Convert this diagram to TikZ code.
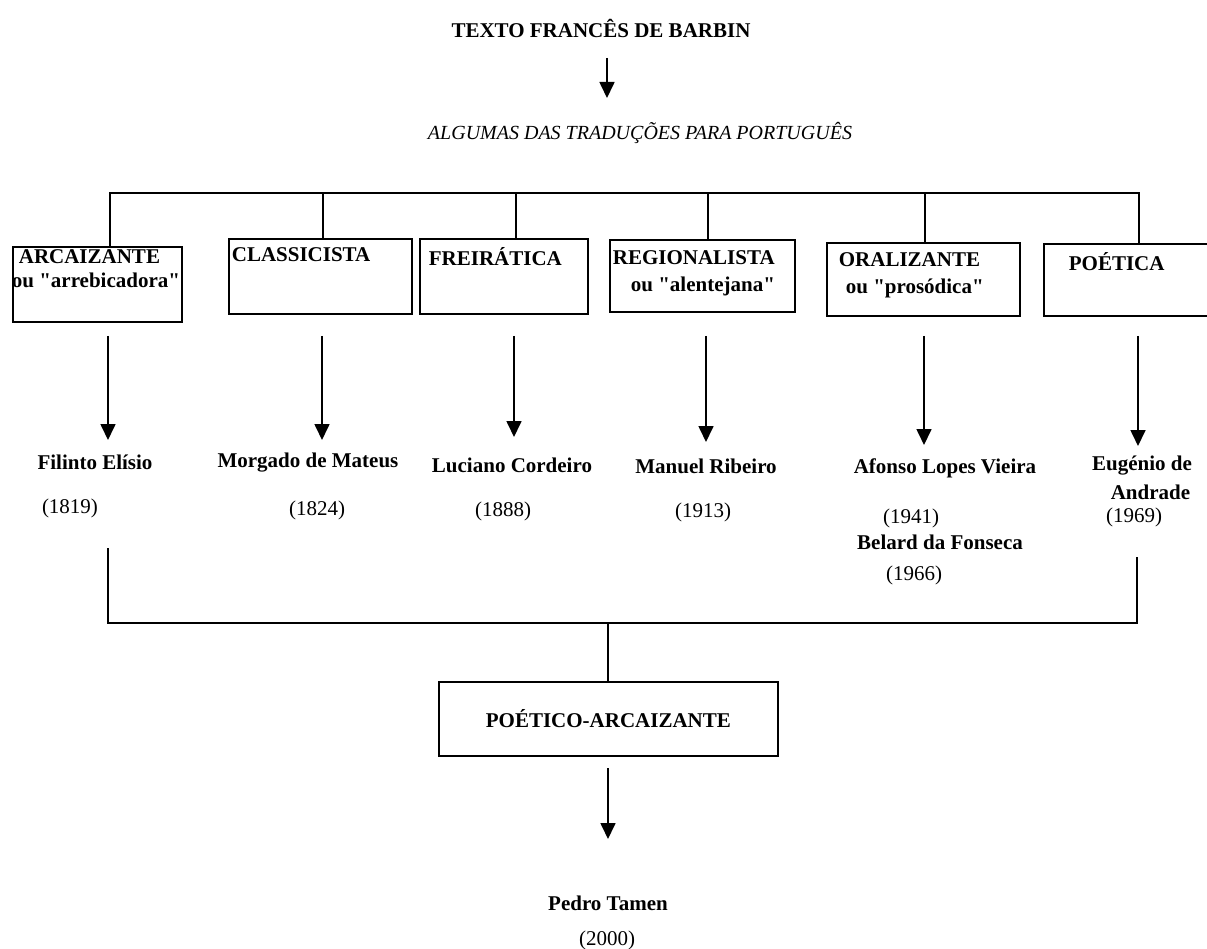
\documentclass[tikz,border=0pt]{standalone}
\usepackage{fontspec}
\setmainfont{Liberation Serif}[Ligatures=TeXOff]
\usetikzlibrary{arrows.meta}
\begin{document}
\begin{tikzpicture}[x=1pt,y=-1pt,line width=1.7pt,
  lbl/.style={font=\bfseries\fontsize{21}{23}\selectfont, inner sep=0pt},
  yr/.style={font=\fontsize{21}{23}\selectfont, inner sep=0pt},
  boxlbl/.style={lbl, anchor=west},
  frame/.style={draw, line width=1.7pt, inner sep=0pt, anchor=north west},
  arr/.style={-{Triangle[length=16pt,width=15pt]}},
]
\useasboundingbox (0,0) rectangle (1207,949);
\clip (0,0) rectangle (1207,949);

% title
\node[lbl] (title) at (601,28) {TEXTO FRANCÊS DE BARBIN};
\node[font=\itshape\fontsize{20}{22}\selectfont, inner sep=0pt] (sub) at (640,133) {ALGUMAS DAS TRADUÇÕES PARA PORTUGUÊS};
\coordinate (ta) at (607,58);
\coordinate (tb) at (607,98);
\draw[arr] (ta) -- (tb);

% boxes
\node[frame, minimum width=169pt, minimum height=75pt] (b1) at (12,246) {};
\node[frame, minimum width=183pt, minimum height=75pt] (b2) at (228,238) {};
\node[frame, minimum width=168pt, minimum height=75pt] (b3) at (419,238) {};
\node[frame, minimum width=185pt, minimum height=72pt] (b4) at (609,239) {};
\node[frame, minimum width=193pt, minimum height=73pt] (b5) at (826,242) {};
\node[frame, minimum width=180pt, minimum height=72pt] (b6) at (1043,243) {};

\begin{scope}
\clip (b1.north west) rectangle (b1.south east);
\node[boxlbl] (t1) at (18,257) {ARCAIZANTE};
\node[boxlbl] (t1b) at (11,280) {ou "arrebicadora"};
\end{scope}
\node[boxlbl] (t2) at (231,255) {CLASSICISTA};
\node[boxlbl] (t3) at (428,257) {FREIRÁTICA};
\node[boxlbl] (t4) at (612,258) {REGIONALISTA};
\node[boxlbl] (t4b) at (630,286) {ou "alentejana"};
\node[boxlbl] (t5) at (838,260) {ORALIZANTE};
\node[boxlbl] (t5b) at (845,288) {ou "prosódica"};
\node[boxlbl] (t6) at (1068,262) {POÉTICA};

% top bracket
\coordinate (d1) at (110,193);
\coordinate (d2) at (323,193);
\coordinate (d3) at (516,193);
\coordinate (d4) at (708,193);
\coordinate (d5) at (925,193);
\coordinate (d6) at (1139,193);
\draw (d1 |- b1.north) -- (d1) -- (d6) -- (d6 |- b6.north);
\draw (d2) -- (d2 |- b2.north);
\draw (d3) -- (d3 |- b3.north);
\draw (d4) -- (d4 |- b4.north);
\draw (d5) -- (d5 |- b5.north);

% arrows to names
\coordinate (s1) at (108,336); \coordinate (e1) at (108,440);
\coordinate (s2) at (322,336); \coordinate (e2) at (322,440);
\coordinate (s3) at (514,336); \coordinate (e3) at (514,437);
\coordinate (s4) at (706,336); \coordinate (e4) at (706,442);
\coordinate (s5) at (924,336); \coordinate (e5) at (924,445);
\coordinate (s6) at (1138,336); \coordinate (e6) at (1138,446);
\foreach \i in {1,...,6} \draw[arr] (s\i) -- (e\i);

% names and years
\node[lbl] (n1) at (95,462) {Filinto Elísio};
\node[lbl] (n2) at (308,463) {Morgado de Mateus};
\node[lbl] (n3) at (512,465) {Luciano Cordeiro};
\node[lbl] (n4) at (706,466) {Manuel Ribeiro};
\node[lbl] (n5) at (945,468) {Afonso Lopes Vieira};
\node[lbl] (n6) at (1142,466) {Eugénio de};
\node[lbl, anchor=east] (n6b) at (1191,492) {Andrade};
\node[yr] (y1) at (70,508) {(1819)};
\node[yr] (y2) at (317,510) {(1824)};
\node[yr] (y3) at (503,511) {(1888)};
\node[yr] (y4) at (703,512) {(1913)};
\node[yr] (y5) at (911,518) {(1941)};
\node[lbl] (n7) at (940,542) {Belard da Fonseca};
\node[yr] (y7) at (914,575) {(1966)};
\node[yr] (y6) at (1134,517) {(1969)};

% bottom bracket
\coordinate (u1) at (108,548);
\coordinate (u2) at (1137,557);
\coordinate (m) at (608,623);
\draw (u1) -- (u1 |- m) -- (u2 |- m) -- (u2);

\node[frame, minimum width=339pt, minimum height=74pt] (fin) at (438,681) {};
\node[lbl] (finl) at (fin.center) {POÉTICO-ARCAIZANTE};
\draw (m) -- (m |- fin.north);
\coordinate (fa) at (608,768);
\coordinate (fb) at (608,839);
\draw[arr] (fa) -- (fb);
\node[lbl] (pt) at (608,903) {Pedro Tamen};
\node[yr] (py) at (607,940) {(2000)};
\end{tikzpicture}
\end{document}
